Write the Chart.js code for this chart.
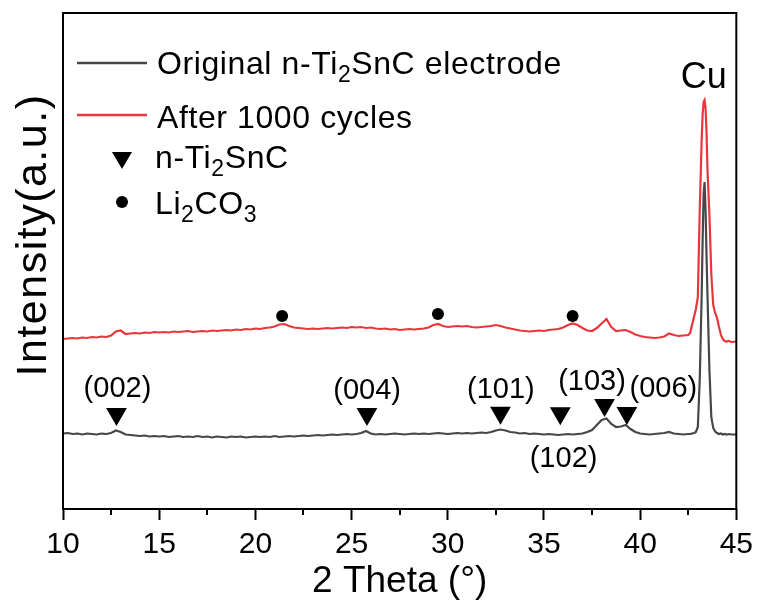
<!DOCTYPE html>
<html>
<head>
<meta charset="utf-8">
<script src="https://cdn.jsdelivr.net/npm/chart.js@4"></script>
<style>
  body { margin: 0; background: #fff; }
</style>
</head>
<body>
<canvas id="xrdChart" width="760" height="602"></canvas>
<script>
// 2 theta positions (deg), finer around the Cu peak
const theta = [
  10, 10.25, 10.5, 10.75, 11, 11.25, 11.5, 11.75,
  12, 12.25, 12.5, 12.75, 13, 13.25, 13.5, 13.75,
  14, 14.25, 14.5, 14.75, 15, 15.25, 15.5, 15.75,
  16, 16.25, 16.5, 16.75, 17, 17.25, 17.5, 17.75,
  18, 18.25, 18.5, 18.75, 19, 19.25, 19.5, 19.75,
  20, 20.25, 20.5, 20.75, 21, 21.25, 21.5, 21.75,
  22, 22.25, 22.5, 22.75, 23, 23.25, 23.5, 23.75,
  24, 24.25, 24.5, 24.75, 25, 25.25, 25.5, 25.75,
  26, 26.25, 26.5, 26.75, 27, 27.25, 27.5, 27.75,
  28, 28.25, 28.5, 28.75, 29, 29.25, 29.5, 29.75,
  30, 30.25, 30.5, 30.75, 31, 31.25, 31.5, 31.75,
  32, 32.25, 32.5, 32.75, 33, 33.25, 33.5, 33.75,
  34, 34.25, 34.5, 34.75, 35, 35.25, 35.5, 35.75,
  36, 36.25, 36.5, 36.75, 37, 37.25, 37.5, 37.75,
  38, 38.25, 38.5, 38.75, 39, 39.25, 39.5, 39.75,
  40, 40.25, 40.5, 40.75, 41, 41.25, 41.5, 41.75,
  42, 42.25, 42.5,
  42.6, 42.7, 42.8, 42.9, 43, 43.1, 43.2, 43.25, 43.3, 43.35, 43.4, 43.45, 43.5,
  43.6, 43.7, 43.8, 43.9, 44, 44.1, 44.2, 44.3, 44.4, 44.5, 44.6, 44.75, 45
];

// Original n-Ti2SnC electrode (a.u.)
const original = [
  75.5, 76, 75, 75.5, 74.5, 75.5, 75, 74.5,
  75.5, 75, 76, 78.5, 77, 74.5, 74, 73.5,
  73, 73.5, 72.5, 73, 72.5, 73, 72, 72.5,
  73, 72, 72.5, 72, 73, 72, 72.5, 71.5,
  72.5, 72, 71.5, 72.5, 72, 72.5, 71.5, 72,
  72.5, 72, 72.5, 72, 73, 72, 72.5, 73,
  72.5, 73, 73.5, 73, 73.5, 74, 73.5, 74,
  74.5, 74, 74.5, 75, 74.5, 75, 76, 78,
  75.5, 74.5, 75, 74.5, 75, 75.5, 75, 74.5,
  75, 75.5, 75, 75.5, 75, 75.5, 76, 75.5,
  75, 75.5, 76, 75.5, 76, 75.5, 76, 76.5,
  76, 77, 78.5, 79.5, 78.5, 77, 76.5, 75.5,
  76, 75, 75.5, 75, 74.5, 75, 74.5, 74,
  74.5, 75, 74.5, 75, 75.5, 77, 79, 84,
  89, 90.5, 85, 82, 82.5, 84, 80, 77,
  75.5, 75, 74.5, 75, 75.5, 76, 77, 75.5,
  75, 74.5, 75,
  75, 75.5, 76, 77, 82, 130, 215, 270, 315, 327, 300, 255, 215,
  140, 92, 81, 77.5, 76, 75, 75.5, 74.5, 75, 74.5, 75, 74.5, 74.5
];

// After 1000 cycles (a.u.)
const cycled = [
  170, 170.5, 171, 170.5, 171.5, 171, 172, 171.5,
  172.5, 172, 173.5, 177.5, 178.5, 175, 175.5, 176,
  175.5, 176.5, 176, 177, 176.5, 177, 176.5, 177.5,
  177, 177.5, 178, 177, 177.5, 178, 177.5, 178.5,
  178, 178.5, 179, 178.5, 179.5, 179, 180, 179.5,
  180.5, 180, 181, 181.5, 182.5, 184.5, 185, 183,
  181.5, 181, 180.5, 180, 180.5, 180, 180.5, 181,
  180.5, 181, 181.5, 181, 182, 181.5, 182, 181,
  181.5, 180.5, 180, 180.5, 179.5, 180, 179, 179.5,
  180, 179.5, 180, 180.5, 181.5, 184, 185, 183,
  182, 182.5, 183, 182.5, 183, 182, 181.5, 182,
  182.5, 183, 184, 183, 181.5, 180.5, 179.5, 178.5,
  178, 177.5, 178, 178.5, 178, 179, 179.5, 180,
  181.5, 184, 185.5, 184, 181, 178.5, 178, 181,
  185.5, 190, 182, 178, 178.5, 179, 177, 174.5,
  173, 172, 171.5, 171, 171.5, 172.5, 175.5, 174,
  173, 173.5, 174,
  176, 184, 192, 200, 212, 300, 370, 395, 407, 409, 401, 378, 340,
  295, 235, 204, 196, 191, 182, 174, 170, 168, 167.5, 168, 167, 167.5
];

// n-Ti2SnC reflections (triangles) and Li2CO3 (dots)
const tiTheta = [12.78, 25.8, 32.74, 35.85, 38.15, 39.31];
const tiLevel = [95, 95, 96.3, 95.7, 104, 96];
const liTheta = [21.39, 29.49, 36.49];
const liLevel = [193, 195, 193];

// peak labels: text, 2 theta, baseline level
const peakText = ['(002)', '(004)', '(101)', '(102)', '(103)', '(006)', 'Cu'];
const peakTheta = [12.83, 25.81, 32.76, 36.02, 37.5, 41.21, 43.31];
const peakLevel = [112, 110, 111, 42, 119, 112, 421];

const majorTicks = [10, 15, 20, 25, 30, 35, 40, 45];
const minorTicks = [12.5, 17.5, 22.5, 27.5, 32.5, 37.5, 42.5];

const FONT = "'Liberation Sans', Arial, sans-serif";
const GREY = '#474747';
const RED = '#e8373c';

// draw text with subscript parts, e.g. [['n-Ti'], ['2', true], ['SnC']]
function drawRich(ctx, parts, x, y, size) {
  parts.forEach(([t, sub]) => {
    ctx.font = (sub ? Math.round(size * 0.72) : size) + 'px ' + FONT;
    ctx.fillText(t, x, sub ? y + 8 : y);
    x += ctx.measureText(t).width;
  });
}

const overlay = {
  id: 'overlay',
  afterDraw(chart) {
    const { ctx, chartArea: a, scales: { x, y } } = chart;
    ctx.save();

    // box frame
    ctx.strokeStyle = '#000';
    ctx.lineWidth = 2;
    ctx.strokeRect(a.left, a.top, a.right - a.left, a.bottom - a.top);

    // minor ticks
    ctx.beginPath();
    minorTicks.forEach(v => {
      const px = Math.round(x.getPixelForValue(v));
      ctx.moveTo(px, a.bottom);
      ctx.lineTo(px, a.bottom + 6);
    });
    ctx.stroke();

    // peak labels
    ctx.fillStyle = '#000';
    ctx.textAlign = 'center';
    ctx.textBaseline = 'alphabetic';
    peakText.forEach((t, i) => {
      ctx.font = (t === 'Cu' ? 36 : 29) + 'px ' + FONT;
      ctx.fillText(t, x.getPixelForValue(peakTheta[i]), y.getPixelForValue(peakLevel[i]));
    });

    // y axis title
    ctx.save();
    ctx.translate(46, 235);
    ctx.rotate(-Math.PI / 2);
    ctx.font = '43px ' + FONT;
    ctx.letterSpacing = '1.5px';
    ctx.textAlign = 'center';
    ctx.fillText('Intensity(a.u.)', 0, 0);
    ctx.restore();

    // legend
    ctx.textAlign = 'left';
    ctx.letterSpacing = '0.6px';
    ctx.lineWidth = 2.5;
    ctx.strokeStyle = GREY;
    ctx.beginPath(); ctx.moveTo(77, 63); ctx.lineTo(147, 63); ctx.stroke();
    ctx.strokeStyle = RED;
    ctx.beginPath(); ctx.moveTo(77, 115); ctx.lineTo(147, 115); ctx.stroke();
    drawRich(ctx, [['Original n-Ti'], ['2', true], ['SnC electrode']], 157, 74, 32);
    drawRich(ctx, [['After 1000 cycles']], 157, 128, 32);
    drawRich(ctx, [['n-Ti'], ['2', true], ['SnC']], 155, 168, 32);
    drawRich(ctx, [['Li'], ['2', true], ['CO'], ['3', true]], 155, 214, 32);

    ctx.fillStyle = '#000';
    ctx.beginPath();
    ctx.moveTo(112, 152); ctx.lineTo(132, 152); ctx.lineTo(122, 169);
    ctx.closePath(); ctx.fill();
    ctx.beginPath();
    ctx.arc(122, 202, 6, 0, Math.PI * 2);
    ctx.fill();

    ctx.restore();
  }
};

const ctx = document.getElementById('xrdChart').getContext('2d');
new Chart(ctx, {
  type: 'line',
  data: {
    datasets: [
      {
        type: 'scatter',
        data: tiTheta.map((t, i) => ({ x: t, y: tiLevel[i] })),
        pointStyle: 'triangle',
        rotation: 180,
        pointRadius: 12,
        backgroundColor: '#000',
        borderWidth: 0
      },
      {
        type: 'scatter',
        data: liTheta.map((t, i) => ({ x: t, y: liLevel[i] })),
        pointStyle: 'circle',
        pointRadius: 6,
        backgroundColor: '#000',
        borderWidth: 0
      },
      {
        label: 'Original n-Ti2SnC electrode',
        data: theta.map((t, i) => ({ x: t, y: original[i] })),
        borderColor: GREY,
        borderWidth: 2.2,
        pointRadius: 0,
        tension: 0
      },
      {
        label: 'After 1000 cycles',
        data: theta.map((t, i) => ({ x: t, y: cycled[i] })),
        borderColor: RED,
        borderWidth: 2.2,
        pointRadius: 0,
        tension: 0
      }
    ]
  },
  options: {
    responsive: false,
    animation: false,
    layout: { padding: { top: 13, right: 22, left: 0, bottom: 0 } },
    plugins: { legend: { display: false }, tooltip: { enabled: false } },
    scales: {
      x: {
        type: 'linear',
        min: 10,
        max: 45,
        afterFit: s => { s.height = 93; },
        afterBuildTicks: s => { s.ticks = majorTicks.map(v => ({ value: v })); },
        ticks: {
          color: '#000',
          font: { family: FONT, size: 30 },
          padding: 7,
          maxRotation: 0,
          autoSkip: false
        },
        grid: { drawOnChartArea: false, tickLength: 11, tickWidth: 2, tickColor: '#000' },
        border: { display: false },
        title: {
          display: true,
          text: '2 Theta (°)',
          color: '#000',
          font: { family: FONT, size: 37, lineHeight: 1.1 },
          padding: 0
        }
      },
      y: {
        min: 0,
        max: 496,
        afterFit: s => { s.width = 63; },
        ticks: { display: false },
        grid: { display: false },
        border: { display: false }
      }
    }
  },
  plugins: [overlay]
});
</script>
</body>
</html>
